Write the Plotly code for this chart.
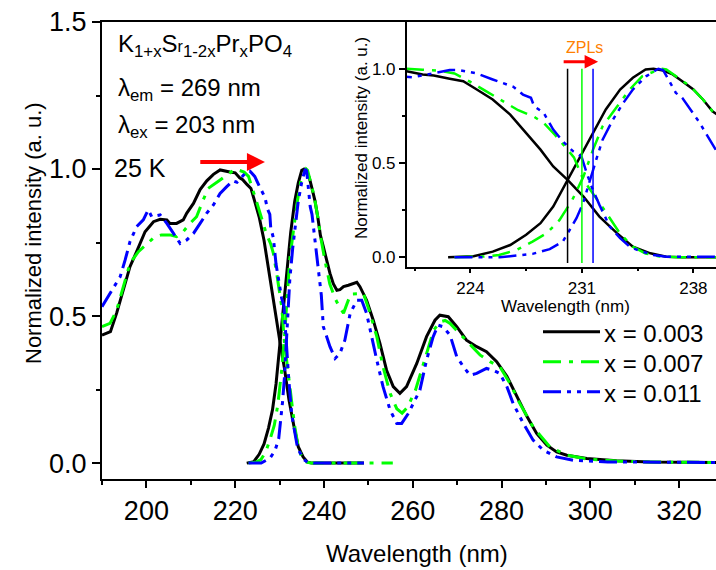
import plotly.graph_objects as go

# ---------------- data ----------------
# Excitation spectra (lambda_em = 269 nm), 25 K
exc_x_003 = [190.0, 191.9, 193.3, 194.8, 196.3, 197.8, 199.7, 201.6, 203.1, 204.6, 205.3, 206.8,
             208.3, 209.1, 210.6, 212.1, 213.6, 215.1, 216.6, 218.8, 220.0, 221.0, 221.7, 222.7,
             223.55, 224.4, 225.4, 226.5, 227.5, 228.4, 229.2, 230.1, 231.1, 232.1, 233.2, 234.2,
             235.3, 236.3, 237.3, 240.0, 245.0, 249.0]
exc_y_003 = [0.435, 0.447, 0.51, 0.588, 0.668, 0.719, 0.787, 0.821, 0.829, 0.827, 0.815, 0.815,
             0.827, 0.85, 0.883, 0.93, 0.96, 0.982, 0.997, 0.99, 0.987, 0.97, 0.964, 0.947,
             0.934, 0.89, 0.837, 0.757, 0.66, 0.571, 0.482, 0.411, 0.322, 0.216, 0.128, 0.056,
             0.021, 0.003, 0.0, 0.0, 0.0, 0.0]

exc_x_007 = [190.0, 191.8, 193.3, 194.8, 196.3, 198.2, 200.1, 201.9, 203.4, 205.3, 206.8, 208.3,
             209.8, 211.3, 212.8, 213.9, 216.6, 218.5, 220.0, 221.0, 222.0, 223.0, 224.0, 225.0,
             226.0, 227.0, 228.0, 228.6, 229.3, 230.0, 230.5, 231.1, 231.7, 232.5, 233.4, 234.2,
             235.0, 235.8, 237.0, 240.0, 245.0, 250.0, 255.5]
exc_y_007 = [0.464, 0.475, 0.52, 0.6, 0.679, 0.719, 0.747, 0.77, 0.776, 0.776, 0.77, 0.787,
             0.815, 0.838, 0.895, 0.934, 0.963, 0.985, 1.0, 0.995, 0.99, 0.975, 0.93, 0.88,
             0.83, 0.78, 0.745, 0.713, 0.65, 0.58, 0.53, 0.41, 0.34, 0.24, 0.125, 0.056,
             0.02, 0.005, 0.0, 0.0, 0.0, 0.0, 0.0]

exc_x_011 = [190.0, 191.1, 192.6, 194.1, 195.2, 196.3, 197.8, 199.3, 200.4, 201.2, 203.1, 204.6,
             206.1, 207.6, 209.1, 210.6, 212.1, 213.6, 215.1, 216.6, 218.1, 219.5, 220.4, 221.5,
             222.7, 223.3, 224.4, 225.4, 226.7, 227.3, 227.8, 228.0, 228.6, 229.2, 229.8, 230.45,
             230.97, 231.3, 231.6, 232.1, 232.75, 233.4, 234.0, 234.6, 235.5, 236.3, 238.0, 242.0,
             249.0]
exc_y_011 = [0.532, 0.56, 0.594, 0.634, 0.69, 0.753, 0.804, 0.827, 0.861, 0.838, 0.844, 0.815,
             0.781, 0.747, 0.759, 0.781, 0.815, 0.85, 0.878, 0.917, 0.94, 0.96, 0.955, 0.975,
             0.993, 0.993, 0.975, 0.943, 0.904, 0.863, 0.846, 0.801, 0.766, 0.677, 0.615, 0.562,
             0.535, 0.447, 0.376, 0.278, 0.163, 0.101, 0.056, 0.035, 0.012, 0.003, 0.0, 0.0,
             0.0]

# Emission spectra (lambda_ex = 203 nm), 25 K
em_x_003 = [222.6, 224.2, 225.4, 226.5, 227.5, 228.4, 229.2, 230.0, 230.9, 231.7, 232.5, 233.4,
            234.2, 235.0, 235.5, 236.1, 236.7, 237.3, 238.0, 238.6, 239.2, 239.85, 240.6, 241.35,
            242.1, 242.9, 243.6, 244.4, 245.5, 246.6, 247.4, 248.1, 249.6, 251.1, 252.6, 254.1,
            255.6, 257.1, 258.6, 260.9, 263.1, 265.0, 266.1, 268.0, 269.9, 272.1, 274.4, 276.6,
            278.9, 281.2, 283.4, 285.7, 287.9, 290.2, 292.4, 294.7, 299.2, 305.9, 313.4, 330.0]
em_y_003 = [0.0, 0.005, 0.03, 0.065, 0.119, 0.181, 0.269, 0.394, 0.535, 0.66, 0.784, 0.89,
            0.952, 0.996, 1.0, 0.99, 0.97, 0.934, 0.89, 0.837, 0.774, 0.736, 0.69, 0.645,
            0.61, 0.588, 0.59, 0.6, 0.605, 0.611, 0.615, 0.6, 0.554, 0.486, 0.407, 0.316,
            0.26, 0.237, 0.26, 0.339, 0.43, 0.486, 0.503, 0.498, 0.464, 0.418, 0.396, 0.379,
            0.345, 0.295, 0.227, 0.159, 0.101, 0.061, 0.038, 0.027, 0.016, 0.008, 0.004, 0.002]

em_x_007 = [223.0, 224.8, 225.8, 226.9, 227.9, 228.8, 229.6, 230.4, 231.1, 231.7, 232.3, 233.2,
            234.0, 234.8, 235.7, 236.0, 236.3, 236.9, 237.8, 238.6, 239.2, 240.2, 241.3, 242.5,
            243.5, 244.4, 245.3, 246.0, 248.9, 250.4, 251.9, 253.3, 254.9, 256.4, 257.6, 258.8,
            260.6, 262.4, 264.7, 266.1, 267.3, 268.4, 270.0, 272.1, 275.2, 277.4, 279.6, 281.9,
            284.1, 287.1, 290.9, 294.7, 299.2, 306.0, 313.0, 330.0]
em_y_007 = [0.0, 0.004, 0.012, 0.039, 0.083, 0.128, 0.198, 0.305, 0.429, 0.571, 0.695, 0.8,
            0.89, 0.961, 0.99, 1.0, 0.996, 0.961, 0.907, 0.837, 0.774, 0.69, 0.61, 0.56,
            0.53, 0.51, 0.55, 0.575, 0.577, 0.509, 0.43, 0.328, 0.237, 0.185, 0.17, 0.19,
            0.248, 0.339, 0.452, 0.48, 0.485, 0.475, 0.45, 0.418, 0.367, 0.345, 0.328, 0.271,
            0.203, 0.123, 0.055, 0.027, 0.014, 0.007, 0.004, 0.002]

em_x_011 = [223.0, 225.85, 227.9, 228.98, 229.8, 230.24, 230.66, 231.07, 231.5, 231.9, 232.3, 232.95,
            233.6, 234.2, 235.05, 235.8, 236.1, 236.5, 236.9, 237.3, 237.8, 238.4, 238.9, 239.4,
            239.85, 241.35, 242.5, 243.6, 244.7, 245.9, 247.4, 248.5, 249.6, 250.7, 251.9, 253.3,
            254.9, 256.4, 257.5, 259.0, 261.6, 263.1, 264.6, 265.7, 266.8, 268.4, 269.9, 271.4,
            272.9, 274.4, 276.6, 278.1, 279.6, 281.2, 282.6, 284.9, 287.1, 289.4, 292.4, 296.1,
            303.9, 330.0]
em_y_011 = [0.0, 0.0, 0.018, 0.043, 0.083, 0.145, 0.207, 0.287, 0.411, 0.518, 0.624, 0.73,
            0.819, 0.89, 0.961, 1.0, 0.993, 0.934, 0.872, 0.846, 0.783, 0.713, 0.641, 0.571,
            0.464, 0.396, 0.356, 0.373, 0.418, 0.509, 0.554, 0.554, 0.509, 0.43, 0.35, 0.26,
            0.18, 0.135, 0.135, 0.169, 0.248, 0.35, 0.43, 0.469, 0.464, 0.435, 0.362, 0.328,
            0.299, 0.305, 0.322, 0.316, 0.305, 0.26, 0.203, 0.135, 0.078, 0.044, 0.021, 0.01,
            0.004, 0.002]

# Zero-phonon line positions (nm)
zpl_nm = [230.1, 231.0, 231.7]

series_labels = ["x = 0.003", "x = 0.007", "x = 0.011"]

# ---------------- styling ----------------
W, H = 716, 570
ML, MR, MT, MB = 102, 0, 22, 91
FONT = "Liberation Sans, Arial, sans-serif"
colors = ["#000000", "#00FF00", "#0000FF"]
dashes = ["solid", "18px,8px,4px,8px", "18px,6px,4px,6px,4px,6px"]


def px(x):
    return (x - ML) / (W - ML - MR)


def py(y):
    return (H - MB - y) / (H - MT - MB)


fig = go.Figure()

exc = [(exc_x_003, exc_y_003), (exc_x_007, exc_y_007), (exc_x_011, exc_y_011)]
emi = [(em_x_003, em_y_003), (em_x_007, em_y_007), (em_x_011, em_y_011)]

for (xa, ya, width) in [("x", "y", 3), ("x2", "y2", 2.5)]:
    for i in range(3):
        for xs, ys in (exc[i], emi[i]):
            fig.add_trace(go.Scatter(
                x=xs, y=ys, mode="lines", xaxis=xa, yaxis=ya,
                line=dict(color=colors[i], width=width, dash=dashes[i]),
                showlegend=False, hoverinfo="skip"))

for i, z in enumerate(zpl_nm):
    fig.add_trace(go.Scatter(
        x=[z, z], y=[-0.03, 1.0], mode="lines", xaxis="x2", yaxis="y2",
        line=dict(color=colors[i], width=1.5), showlegend=False, hoverinfo="skip"))

axis_common = dict(showgrid=False, zeroline=False, showline=True, linecolor="black",
                   ticks="outside", tickcolor="black")

fig.update_layout(
    width=W, height=H,
    margin=dict(l=ML, r=MR, t=MT, b=MB, pad=0),
    paper_bgcolor="white", plot_bgcolor="white",
    font=dict(family=FONT, color="black"),
    xaxis=dict(domain=[0, 1], range=[190, 328.3], tick0=200, dtick=20,
               tickfont=dict(size=27), ticklen=7, tickwidth=2, linewidth=2, mirror=True,
               minor=dict(tick0=200, dtick=10, ticklen=4, tickwidth=2, ticks="outside",
                          tickcolor="black"),
               **axis_common),
    yaxis=dict(domain=[0, 1], range=[-0.054, 1.5], tick0=0, dtick=0.5, tickformat=".1f",
               tickfont=dict(size=27), ticklen=8, tickwidth=2, linewidth=2,
               minor=dict(tick0=0, dtick=0.25, ticklen=4, tickwidth=2, ticks="outside",
                          tickcolor="black"),
               **axis_common),
    xaxis2=dict(domain=[px(406.7), 1], anchor="y2", range=[220.0, 239.42], tick0=224, dtick=7,
                tickfont=dict(size=17), ticklen=5, tickwidth=1.5, linewidth=1.5, mirror=True,
                minor=dict(tick0=224, dtick=3.5, ticklen=3, tickwidth=1.5, ticks="outside",
                           tickcolor="black"),
                **axis_common),
    yaxis2=dict(domain=[py(266.7), 1], anchor="x2", range=[-0.05, 1.248], tick0=0, dtick=0.5,
                tickformat=".1f", tickfont=dict(size=17), ticklen=6, tickwidth=1.5,
                linewidth=1.5,
                minor=dict(tick0=0, dtick=0.25, ticklen=3, tickwidth=1.5, ticks="outside",
                           tickcolor="black"),
                **axis_common),
)

ann = []


def text(x, y, s, size, xanchor="left", angle=0, color="black"):
    ann.append(dict(x=px(x), y=py(y), xref="paper", yref="paper", text=s, showarrow=False,
                    xanchor=xanchor, yanchor="middle", textangle=angle,
                    font=dict(size=size, color=color, family=FONT)))


# axis titles
text(416.7, 553, "Wavelength (nm)", 24, xanchor="center")
text(33, 233, "Normalized intensity (a. u.)", 22, xanchor="center", angle=-90)
text(565.7, 306, "Wavelength (nm)", 17, xanchor="center")
text(361, 138, "Normalized intensity (a. u.)", 17, xanchor="center", angle=-90)

# sample description
text(116, 46, "K<sub>1+x</sub>S<span style='font-size:16px'>r</span><sub>1-2x</sub>"
              "Pr<sub>x</sub>PO<sub>4</sub>", 24)
text(116, 89, "λ<sub>em</sub> = 269 nm", 24)
text(116, 127, "λ<sub>ex</sub> = 203 nm", 24)
text(112, 168, "25 K", 25)

# legend
leg_rows = [331.7, 361.7, 391.7]
shapes = []
for i, yy in enumerate(leg_rows):
    shapes.append(dict(type="line", xref="paper", yref="paper", x0=px(543), x1=px(600),
                       y0=py(yy), y1=py(yy),
                       line=dict(color=colors[i], width=3, dash=dashes[i])))
    text(602, yy + 1.5, series_labels[i], 24)

# shift arrows
ann.append(dict(x=226.7, y=1.024, ax=211.8, ay=1.024, xref="x", yref="y", axref="x", ayref="y",
                showarrow=True, arrowhead=2, arrowsize=0.9, arrowwidth=4, arrowcolor="#FF0000",
                text=""))
ann.append(dict(x=232.02, y=1.037, ax=229.76, ay=1.037, xref="x2", yref="y2", axref="x2",
                ayref="y2", showarrow=True, arrowhead=2, arrowsize=0.9, arrowwidth=3,
                arrowcolor="#FF0000", text=""))
ann.append(dict(x=231.18, y=1.112, xref="x2", yref="y2", text="ZPLs", showarrow=False,
                xanchor="center", yanchor="middle",
                font=dict(size=16, color="#FF8000", family=FONT)))

fig.update_layout(annotations=ann, shapes=shapes)

fig.write_html("out.html")
